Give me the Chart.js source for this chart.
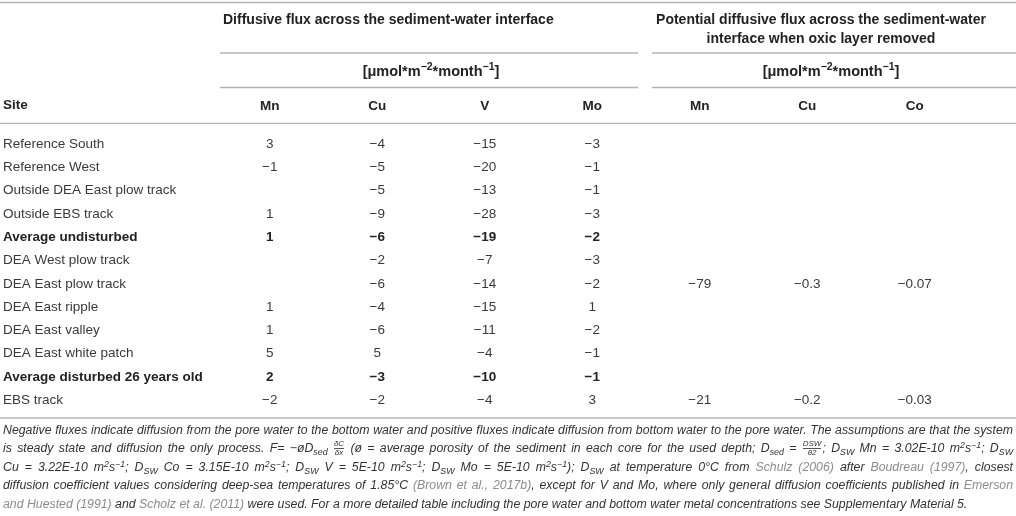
<!DOCTYPE html>
<html>
<head>
<meta charset="utf-8">
<script src="https://cdn.jsdelivr.net/npm/chart.js@4.4.0/dist/chart.umd.min.js"></script>
<style>
  body { margin: 0; background: #fff; font-family: "Liberation Sans", Arial, sans-serif; }
  #wrap { position: relative; width: 1016px; height: 425px; }
  #note { position: absolute; top: 420.5px; left: 3px; width: 1010px; font-style: italic; font-size: 12.3px; line-height: 18.5px; color: #333; }
  #note div { white-space: nowrap; }
  .ref { color: #8c8c8c; }
  sub, sup { font-size: 0.72em; line-height: 0; }
  sub { vertical-align: -0.3em; }
  sup { vertical-align: 0.45em; }
  .frac { display: inline-flex; flex-direction: column; vertical-align: middle; font-size: 8px; line-height: 8px; text-align: center; margin: 0 1px; }
  .frac .num { border-bottom: 0.8px solid #555; }
</style>
</head>
<body>
<div id="wrap"><canvas id="tabla"></canvas></div>
<div id="note">
  <div class="j">Negative fluxes indicate diffusion from the pore water to the bottom water and positive fluxes indicate diffusion from bottom water to the pore water. The assumptions are that the system</div>
  <div class="j">is steady state and diffusion the only process. F= −øD<sub>sed</sub> <span class="frac"><span class="num">δC</span><span>δx</span></span> (ø = average porosity of the sediment in each core for the used depth; D<sub>sed</sub> = <span class="frac"><span class="num">DSW</span><span>θ2</span></span>; D<sub>SW</sub> Mn = 3.02E-10 m<sup>2</sup>s<sup>−1</sup>; D<sub>SW</sub></div>
  <div class="j">Cu = 3.22E-10 m<sup>2</sup>s<sup>−1</sup>; D<sub>SW</sub> Co = 3.15E-10 m<sup>2</sup>s<sup>−1</sup>; D<sub>SW</sub> V = 5E-10 m<sup>2</sup>s<sup>−1</sup>; D<sub>SW</sub> Mo = 5E-10 m<sup>2</sup>s<sup>−1</sup>); D<sub>SW</sub> at temperature 0°C from <span class="ref">Schulz (2006)</span> after <span class="ref">Boudreau (1997)</span>, closest</div>
  <div class="j">diffusion coefficient values considering deep-sea temperatures of 1.85°C <span class="ref">(Brown et al., 2017b)</span>, except for V and Mo, where only general diffusion coefficients published in <span class="ref">Emerson</span></div>
  <div><span class="ref">and Huested (1991)</span> and <span class="ref">Scholz et al. (2011)</span> were used. For a more detailed table including the pore water and bottom water metal concentrations see Supplementary Material 5.</div>
</div>
<script>
// filas y columnas de la tabla
const sites = [
    "Reference South", "Reference West", "Outside DEA East plow track", "Outside EBS track",
    "Average undisturbed", "DEA West plow track", "DEA East plow track", "DEA East ripple",
    "DEA East valley", "DEA East white patch", "Average disturbed 26 years old", "EBS track"
];
const boldSites = ["Average undisturbed", "Average disturbed 26 years old"];
const elementLabels = ["Mn", "Cu", "V", "Mo", "Mn", "Cu", "Co"];

// flujo difusivo [umol m-2 month-1]
const mnFlux = [3, -1, null, 1, 1, null, null, 1, 1, 5, 2, -2];
const cuFlux = [-4, -5, -5, -9, -6, -2, -6, -4, -6, 5, -3, -2];
const vFlux  = [-15, -20, -13, -28, -19, -7, -14, -15, -11, -4, -10, -4];
const moFlux = [-3, -1, -1, -3, -2, -3, -2, 1, -2, -1, -1, 3];

// flujo potencial sin capa oxica
const mnPotential = [null, null, null, null, null, null, -79, null, null, null, null, -21];
const cuPotential = [null, null, null, null, null, null, -0.3, null, null, null, null, -0.2];
const coPotential = [null, null, null, null, null, null, -0.07, null, null, null, null, -0.03];

const columns = [mnFlux, cuFlux, vFlux, moFlux, mnPotential, cuPotential, coPotential];

const groupLeft = "Diffusive flux across the sediment-water interface";
const groupRight = ["Potential diffusive flux across the sediment-water", "interface when oxic layer removed"];
const unitParts = [["[μmol*m", false], ["−2", true], ["*month", false], ["−1", true], ["]", false]];

const FONT = '"Liberation Sans", Arial, sans-serif';
const LINE = "#b4b4b4";

function fmt(v) {
    return v < 0 ? "\u2212" + Math.abs(v) : String(v);
}

function hline(ctx, x1, x2, y) {
    ctx.beginPath();
    ctx.moveTo(x1, y);
    ctx.lineTo(x2, y);
    ctx.stroke();
}

function drawUnits(ctx, cx, y) {
    const big = "bold 14.5px " + FONT, small = "bold 10.5px " + FONT;
    let w = 0;
    unitParts.forEach(([t, sup]) => { ctx.font = sup ? small : big; w += ctx.measureText(t).width; });
    let x = cx - w / 2;
    ctx.textAlign = "left";
    unitParts.forEach(([t, sup]) => {
        ctx.font = sup ? small : big;
        ctx.fillText(t, x, sup ? y - 5 : y);
        x += ctx.measureText(t).width;
    });
}

const headerPlugin = {
    id: "headerPlugin",
    afterDraw(chart) {
        const ctx = chart.ctx;
        const x = chart.scales.x;
        const a = chart.chartArea;
        const gL = x.getPixelForValue(-0.5);
        const gM = x.getPixelForValue(3.5);
        const gR = chart.width - 20;
        ctx.save();
        ctx.strokeStyle = LINE;
        ctx.lineWidth = 1.3;
        hline(ctx, 0, chart.width, 2.5);
        hline(ctx, gL + 4, gM - 8, 53);
        hline(ctx, gM + 6, chart.width, 53);
        hline(ctx, gL + 4, gM - 8, 87.5);
        hline(ctx, gM + 6, chart.width, 87.5);
        hline(ctx, 0, chart.width, a.top - 9);
        hline(ctx, 0, chart.width, a.bottom + 6);

        ctx.fillStyle = "#222";
        ctx.textBaseline = "middle";
        ctx.font = "bold 14px " + FONT;
        ctx.textAlign = "left";
        ctx.fillText(groupLeft, gL + 7, 20);
        ctx.textAlign = "center";
        ctx.fillText(groupRight[0], (gM + gR) / 2, 20);
        ctx.fillText(groupRight[1], (gM + gR) / 2, 39);
        ctx.textAlign = "left";
        ctx.font = "bold 13.5px " + FONT;
        ctx.fillText("Site", 3, 105);
        drawUnits(ctx, (gL + gM) / 2, 72);
        drawUnits(ctx, (gM + chart.width) / 2, 72);
        ctx.restore();
    }
};

const cellPlugin = {
    id: "cellPlugin",
    afterDatasetsDraw(chart) {
        const ctx = chart.ctx;
        ctx.save();
        ctx.textAlign = "center";
        ctx.textBaseline = "middle";
        chart.data.datasets.forEach((ds, di) => {
            chart.getDatasetMeta(di).data.forEach((pt, i) => {
                const raw = ds.data[i];
                const bold = boldSites.includes(raw.y);
                ctx.font = (bold ? "bold " : "") + "13.5px " + FONT;
                ctx.fillStyle = bold ? "#222" : "#3a3a3a";
                ctx.fillText(fmt(raw.v), pt.x, pt.y);
            });
        });
        ctx.restore();
    }
};

const datasets = columns.map((vals, c) => ({
    label: elementLabels[c],
    data: sites.map((s, r) => ({ x: c, y: s, v: vals[r] })).filter(p => p.v !== null),
    pointRadius: 0,
    pointHoverRadius: 0
}));

new Chart(document.getElementById("tabla"), {
    type: "scatter",
    data: { datasets },
    options: {
        responsive: true,
        maintainAspectRatio: false,
        animation: false,
        events: [],
        layout: { padding: { left: 3, right: 47.5, top: 0, bottom: 13 } },
        plugins: { legend: { display: false }, tooltip: { enabled: false } },
        scales: {
            x: {
                type: "linear",
                position: "top",
                min: -0.5,
                max: 6.5,
                grid: { display: false, drawTicks: false },
                border: { display: false },
                afterBuildTicks: s => { s.ticks = elementLabels.map((_, i) => ({ value: i })); },
                afterFit: s => { s.height = 132.4; },
                ticks: {
                    autoSkip: false,
                    maxRotation: 0,
                    padding: 18,
                    color: "#222",
                    font: { family: FONT, size: 13.5, weight: "bold" },
                    callback: v => elementLabels[v]
                }
            },
            y: {
                type: "category",
                labels: sites,
                offset: true,
                grid: { display: false, drawTicks: false },
                border: { display: false },
                afterFit: s => { s.width = 213; },
                ticks: {
                    crossAlign: "far",
                    autoSkip: false,
                    color: ctx => boldSites.includes(sites[ctx.index]) ? "#222" : "#3a3a3a",
                    font: ctx => ({ family: FONT, size: 13.5, weight: boldSites.includes(sites[ctx.index]) ? "bold" : "normal" })
                }
            }
        }
    },
    plugins: [headerPlugin, cellPlugin]
});

// justificar las lineas de la nota como en el original
document.querySelectorAll("#note div.j").forEach(div => {
    const target = 1010;
    const spaces = (div.textContent.match(/ /g) || []).length;
    div.style.display = "inline-block";
    const w = div.getBoundingClientRect().width;
    div.style.display = "block";
    if (spaces) div.style.wordSpacing = ((target - w) / spaces) + "px";
});
</script>
</body>
</html>
